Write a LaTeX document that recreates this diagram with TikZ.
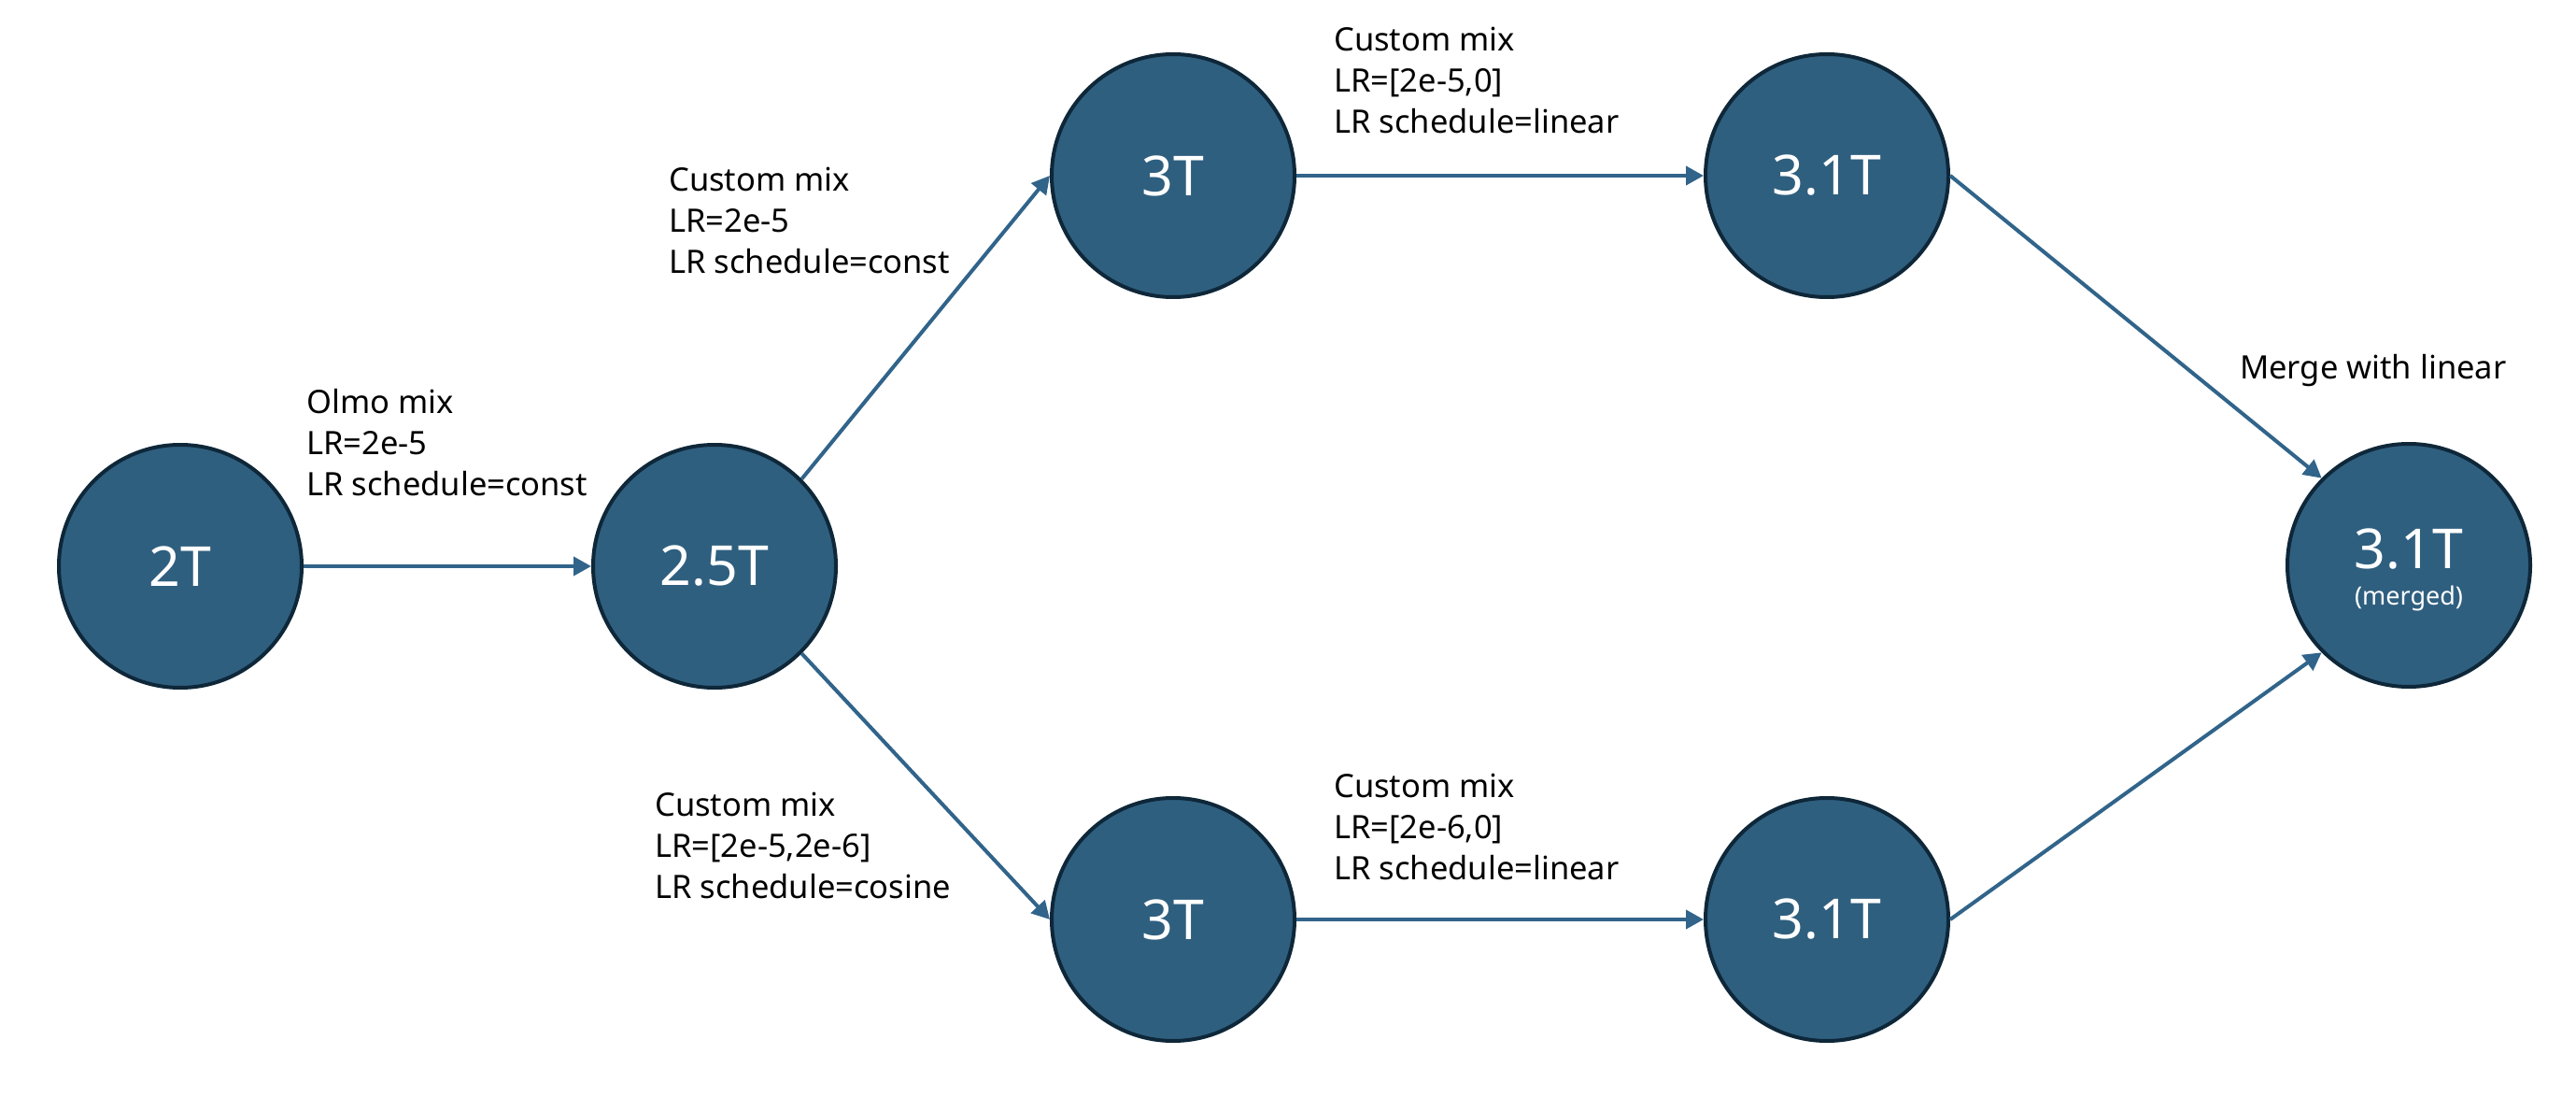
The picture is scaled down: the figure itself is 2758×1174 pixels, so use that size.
\documentclass[tikz,border=0pt]{standalone}
\usepackage{fontspec}
\setmainfont{Noto Sans}
\usetikzlibrary{arrows.meta}
\definecolor{nodefill}{HTML}{2F5F7F}
\definecolor{nodeedge}{HTML}{0E2739}
\definecolor{linkcol}{HTML}{31648A}
\begin{document}
\begin{tikzpicture}[x=1pt,y=-1pt,
  circ/.style={circle, draw=nodeedge, line width=4pt, fill=nodefill, minimum size=260pt, inner sep=0pt, text=white, font=\fontsize{59}{59}\selectfont},
  link/.style={draw=linkcol, line width=4pt, -{Triangle[length=19pt,width=20pt]}},
  lbl/.style={anchor=base west, inner sep=0pt, font=\fontsize{34.5}{44}\selectfont},
  ctext/.style={anchor=base, inner sep=0pt, text=white}
]
\useasboundingbox (0,0) rectangle (2758,1174);
% nodes
\node[circ] (n2T) at (193,606) {2T};
\node[circ] (n25T) at (765,606) {2.5T};
\node[circ] (n3Ta) at (1256,188) {3T};
\node[circ] (n31a) at (1956,188) {3.1T};
\node[circ] (n3Tb) at (1256,984) {3T};
\node[circ] (n31b) at (1956,984) {3.1T};
\node[circ] (nm) at (2579,605) {};
\node[ctext, font=\fontsize{59}{59}\selectfont] (nmt) at (2579,608) {3.1T};
\node[ctext, font=\fontsize{27}{27}\selectfont] (nms) at (2579,647) {(merged)};
% connectors
\draw[link] (n2T.east) -- (n25T.west);
\draw[link] (n25T.north east) -- (n3Ta.west);
\draw[link] (n25T.south east) -- (n3Tb.west);
\draw[link] (n3Ta.east) -- (n31a.west);
\draw[link] (n3Tb.east) -- (n31b.west);
\draw[link] (n31a.east) -- (nm.north west);
\draw[link] (n31b.east) -- (nm.south west);
% labels
\node[lbl] (l1) at (328,442) {\begin{tabular}[t]{@{}l@{}}Olmo mix\\LR=2e-5\\LR schedule=const\end{tabular}};
\node[lbl] (l2) at (716,205) {\begin{tabular}[t]{@{}l@{}}Custom mix\\LR=2e-5\\LR schedule=const\end{tabular}};
\node[lbl] (l3) at (701,873) {\begin{tabular}[t]{@{}l@{}}Custom mix\\LR=[2e-5,2e-6]\\LR schedule=cosine\end{tabular}};
\node[lbl] (l4) at (1428,55) {\begin{tabular}[t]{@{}l@{}}Custom mix\\LR=[2e-5,0]\\LR schedule=linear\end{tabular}};
\node[lbl] (l5) at (1428,853) {\begin{tabular}[t]{@{}l@{}}Custom mix\\LR=[2e-6,0]\\LR schedule=linear\end{tabular}};
\node[lbl] (l6) at (2398,405) {Merge with linear};
\end{tikzpicture}
\end{document}
